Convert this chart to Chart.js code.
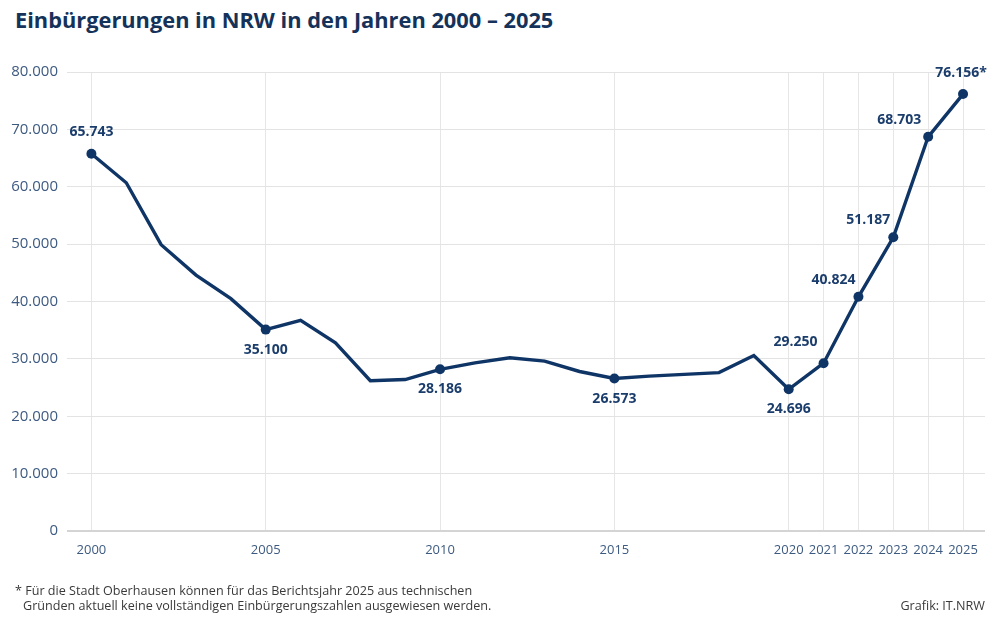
<!DOCTYPE html>
<html>
<head>
<meta charset="utf-8">
<script src="https://cdn.jsdelivr.net/npm/chart.js@4.4.1/dist/chart.umd.min.js"></script>
<style>
  html, body { margin: 0; padding: 0; background: #fff; }
  body { width: 999px; height: 626px; position: relative; overflow: hidden; font-family: "Open Sans", sans-serif; }
  #title { position: absolute; left: 15px; top: 5px; font-size: 21.8px; font-weight: 700; color: #14325a; white-space: nowrap; }
  #chartBox { position: absolute; left: 0; top: 0; width: 999px; height: 626px; }
  .note { position: absolute; font-size: 12.6px; color: #3a3a3a; white-space: nowrap; }
</style>
</head>
<body>
<div id="title">Einbürgerungen in NRW in den Jahren 2000 – 2025</div>
<div id="chartBox"><canvas id="chart"></canvas></div>
<div class="note" style="left:15px; top:582px;">* Für die Stadt Oberhausen können für das Berichtsjahr 2025 aus technischen</div>
<div class="note" style="left:23px; top:597px;">Gründen aktuell keine vollständigen Einbürgerungszahlen ausgewiesen werden.</div>
<div class="note" style="right:14px; top:597px;">Grafik: IT.NRW</div>

<script>
  // Einbürgerungen je Jahr (Werte ohne Beschriftung aus der Grafik geschätzt)
  const years = [2000, 2001, 2002, 2003, 2004, 2005, 2006, 2007, 2008, 2009, 2010, 2011, 2012,
                 2013, 2014, 2015, 2016, 2017, 2018, 2019, 2020, 2021, 2022, 2023, 2024, 2025];
  const values = [65743, 60700, 49900, 44600, 40500, 35100, 36700, 32800, 26200, 26400, 28186, 29300, 30200,
                  29600, 27800, 26573, 27000, 27300, 27600, 30600, 24696, 29250, 40824, 51187, 68703, 76156];

  const xTicks = [2000, 2005, 2010, 2015, 2020, 2021, 2022, 2023, 2024, 2025];
  const yTicks = [0, 10000, 20000, 30000, 40000, 50000, 60000, 70000, 80000];
  const labeledYears = [2000, 2005, 2010, 2015, 2020, 2021, 2022, 2023, 2024, 2025];
  const labelSuffix = { 2025: "*" };

  const navy = "#0f3566";
  const fmt = v => v.toLocaleString("de-DE");

  // where each value label sits relative to its point
  const labelPlace = {
    2000: [0, -22], 2005: [0, 20], 2010: [0, 20], 2015: [0, 20], 2020: [0, 20],
    2021: [-28, -21], 2022: [-25, -17], 2023: [-25, -17], 2024: [-29, -17], 2025: [-2, -21]
  };

  const valueLabels = {
    id: "valueLabels",
    afterDatasetsDraw(chart) {
      const ctx = chart.ctx;
      const meta = chart.getDatasetMeta(0);
      ctx.save();
      ctx.font = "bold 14px 'Open Sans'";
      ctx.fillStyle = "#1b3d6c";
      ctx.textAlign = "center";
      ctx.textBaseline = "middle";
      years.forEach((yr, i) => {
        if (!labeledYears.includes(yr)) return;
        const pt = meta.data[i];
        const off = labelPlace[yr];
        ctx.fillText(fmt(values[i]) + (labelSuffix[yr] || ""), pt.x + off[0], pt.y + off[1]);
      });
      ctx.restore();
    }
  };

  new Chart(document.getElementById("chart").getContext("2d"), {
    type: "line",
    data: {
      datasets: [{
        data: years.map((y, i) => ({ x: y, y: values[i] })),
        borderColor: navy,
        backgroundColor: navy,
        borderWidth: 3.4,
        tension: 0,
        pointRadius: years.map(y => labeledYears.includes(y) ? 5 : 0),
        pointHoverRadius: 0,
        pointBorderWidth: 0
      }]
    },
    options: {
      responsive: true,
      maintainAspectRatio: false,
      animation: false,
      events: [],
      layout: { padding: { top: 72, left: 0, right: 14, bottom: 65 } },
      plugins: { legend: { display: false }, tooltip: { enabled: false } },
      scales: {
        x: {
          type: "linear",
          min: 1999.3,
          max: 2025.63,
          afterBuildTicks: axis => { axis.ticks = xTicks.map(v => ({ value: v })); },
          afterFit: axis => { axis.height = 30; },
          ticks: {
            callback: v => String(v),
            color: "#3d5a80",
            font: { family: "Open Sans", size: 13 },
            padding: 11,
            maxRotation: 0,
            autoSkip: false
          },
          grid: { color: "#e6e6e6", lineWidth: 1, drawTicks: false },
          border: { display: false }
        },
        y: {
          min: 0,
          max: 80000,
          afterBuildTicks: axis => { axis.ticks = yTicks.map(v => ({ value: v })); },
          afterFit: axis => { axis.width = 67; },
          ticks: {
            callback: v => fmt(v),
            color: "#3d5a80",
            font: { family: "Open Sans", size: 15 },
            padding: 9
          },
          grid: {
            color: ctx => ctx.tick.value === 0 ? "#d4d4d4" : "#e3e3e3",
            lineWidth: ctx => ctx.tick.value === 0 ? 2 : 1,
            drawTicks: false
          },
          border: { display: false }
        }
      }
    },
    plugins: [valueLabels]
  });
</script>
</body>
</html>
